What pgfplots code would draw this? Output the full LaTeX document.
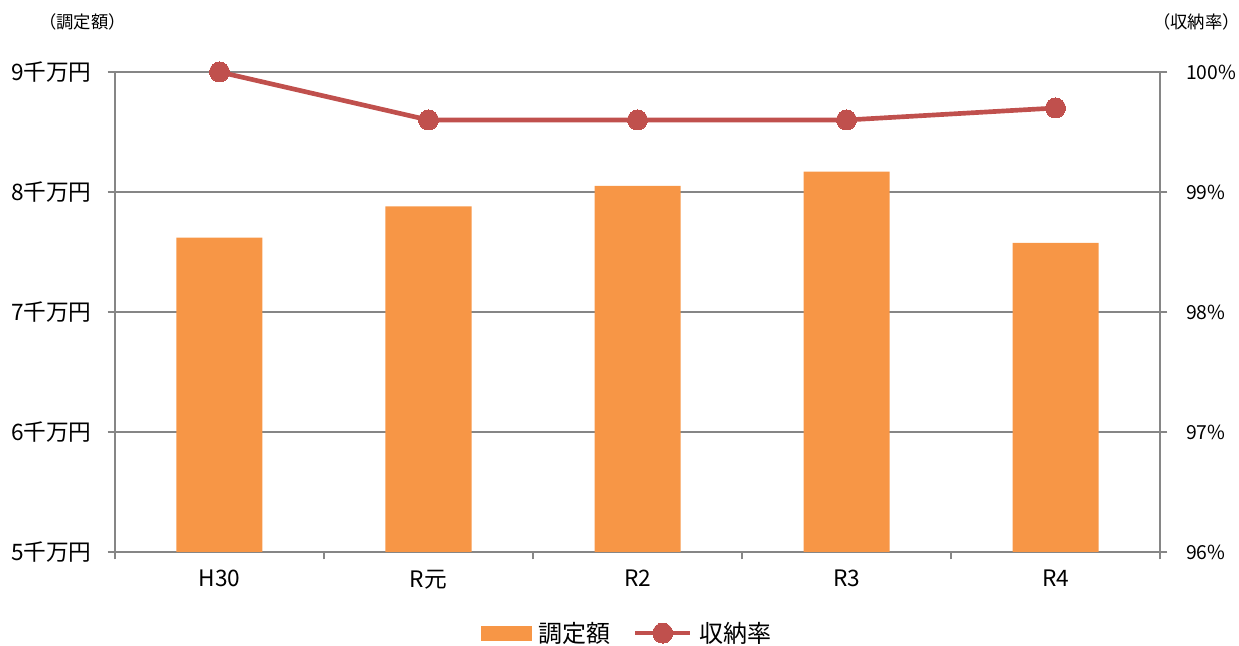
\documentclass[border=0pt]{standalone}
\usepackage{fontspec}
\setmainfont{Noto Sans CJK JP}
\usepackage{pgfplots}
\pgfplotsset{compat=1.18}
\definecolor{barc}{HTML}{F79646}
\definecolor{linec}{HTML}{C0504D}
\definecolor{gridc}{HTML}{868686}
\pgfplotsset{
  linelegend/.style={legend image code/.code={\draw[mark repeat=2,mark phase=2,##1] plot coordinates {(0pt,0pt) (20.5pt,0pt) (41pt,0pt)};}},
  barlegend/.style={legend image code/.code={\fill[barc] (0pt,-5pt) rectangle (38pt,5pt);}},
}
\begin{document}
\begin{tikzpicture}
\useasboundingbox (-86.25pt,-70.5pt) rectangle (843pt,414pt);
\begin{axis}[
  at={(0pt,0pt)}, anchor=south west,
  scale only axis, width=783.75pt, height=360pt,
  xmin=-0.5, xmax=4.5, ymin=5, ymax=9,
  axis x line*=bottom, axis y line*=left,
  axis line style={gridc, line width=1pt},
  ytick={5,6,7,8,9},
  yticklabel={\pgfmathprintnumber{\tick}千万円},
  yticklabel style={xshift=-8.5pt},
  ymajorgrids, grid style={gridc, line width=1pt},
  tick style={gridc, line width=1pt},
  tick align=outside, major tick length=5.5pt, minor tick length=5.5pt,
  xtick={0,1,2,3,4}, xticklabels={H30,R元,R2,R3,R4},
  major x tick style={draw=none},
  minor xtick={-0.5,0.5,1.5,2.5,3.5,4.5},
  xticklabel style={yshift=-4.5pt},
  /pgf/number format/assume math mode=true,
  tick label style={font=\fontsize{17}{17}\selectfont, black},
  clip=true,
]
\addplot[ybar, bar width=64.5pt, fill=barc, draw=none] coordinates {(0,7.62) (1,7.88) (2,8.05) (3,8.17) (4,7.575)};
\end{axis}
\begin{axis}[
  at={(0pt,0pt)}, anchor=south west,
  scale only axis, width=783.75pt, height=360pt,
  xmin=-0.5, xmax=4.5, ymin=96, ymax=100,
  axis x line=none, axis y line*=right,
  axis line style={gridc, line width=1pt},
  tick style={gridc, line width=1pt},
  tick align=outside, major tick length=5.5pt,
  ytick={96,97,98,99,100},
  yticklabel={\pgfmathprintnumber{\tick}\%},
  yticklabel style={xshift=10.5pt},
  /pgf/number format/assume math mode=true,
  tick label style={font=\fontsize{14.5}{14.5}\selectfont, black},
  clip=false,
  legend style={at={(0.492,-0.169)}, anchor=center, draw=none, fill=none,
    legend columns=2, font=\fontsize{18}{18}\selectfont,
    nodes={inner xsep=5pt},
    /tikz/every even column/.append style={column sep=12pt}},
]
\addlegendimage{barlegend}
\addlegendentry{調定額}
\addplot[linec, line width=3.5pt, mark=*, mark size=7.5pt,
  mark options={fill=linec, draw=linec, line width=0pt}, linelegend]
  coordinates {(0,100) (1,99.6) (2,99.6) (3,99.6) (4,99.7)};
\addlegendentry{収納率}
\end{axis}
\node[font=\fontsize{13}{13}\selectfont, inner sep=0pt] at (-24.4pt,397.5pt) {（調定額）};
\node[font=\fontsize{13}{13}\selectfont, inner sep=0pt] at (811pt,397.5pt) {（収納率）};
\end{tikzpicture}
\end{document}
